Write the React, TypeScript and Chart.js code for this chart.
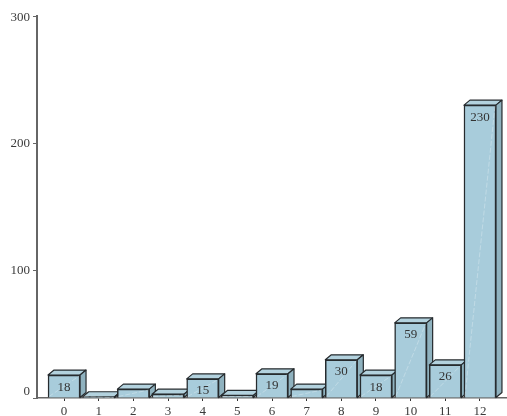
import React, { useEffect, useRef } from "react";
import { Chart, registerables } from "chart.js";

Chart.register(...registerables);

const categories = [0, 1, 2, 3, 4, 5, 6, 7, 8, 9, 10, 11, 12];
const counts = [18, 1, 7, 3, 15, 2, 19, 7, 30, 18, 59, 26, 230];
const yTicks = [0, 100, 200, 300];

const FONT = "'Liberation Serif', serif";
const FRONT = "#a8ccdb";
const TOP = "#b3d2de";
const SIDE = "#8fb2bf";
const EDGE = "#262b2e";
const AXIS = "#666666";
const DX = 6;
const DY = 5;
const MIN_LABELLED = 10;

// Extruded faces behind every bar, then highlights and value labels on top of it.
const boxFaces = {
  id: "boxFaces",
  beforeDatasetsDraw(chart: any) {
    const { ctx } = chart;
    const bars = chart.getDatasetMeta(0).data;
    ctx.save();
    ctx.strokeStyle = EDGE;
    ctx.lineWidth = 1.2;
    ctx.lineJoin = "round";
    bars.forEach((bar: any) => {
      const half = bar.width / 2;
      const l = bar.x - half;
      const r = bar.x + half;
      const t = bar.y;
      const b = bar.base;
      ctx.beginPath();
      ctx.moveTo(l, t);
      ctx.lineTo(l + DX, t - DY);
      ctx.lineTo(r + DX, t - DY);
      ctx.lineTo(r, t);
      ctx.closePath();
      ctx.fillStyle = TOP;
      ctx.fill();
      ctx.stroke();
      ctx.beginPath();
      ctx.moveTo(r, t);
      ctx.lineTo(r + DX, t - DY);
      ctx.lineTo(r + DX, b - DY);
      ctx.lineTo(r, b);
      ctx.closePath();
      ctx.fillStyle = SIDE;
      ctx.fill();
      ctx.stroke();
    });
    ctx.restore();
  },
  afterDatasetsDraw(chart: any) {
    const { ctx } = chart;
    const bars = chart.getDatasetMeta(0).data;
    ctx.save();
    bars.forEach((bar: any, i: number) => {
      const half = bar.width / 2;
      ctx.beginPath();
      ctx.moveTo(bar.x - half + 1, bar.base - 1);
      ctx.lineTo(bar.x + half - 1, bar.y + 1);
      ctx.strokeStyle = "rgba(255,255,255,0.35)";
      ctx.lineWidth = 0.8;
      ctx.setLineDash([5, 2]);
      ctx.stroke();
      ctx.setLineDash([]);
      if (counts[i] >= MIN_LABELLED) {
        ctx.fillStyle = "#333";
        ctx.font = `13px ${FONT}`;
        ctx.textAlign = "center";
        ctx.textBaseline = "middle";
        ctx.fillText(String(counts[i]), bar.x, bar.y + 12);
      }
    });
    // Value-axis labels: the end labels sit inside the axis span
    const y = chart.scales.y;
    ctx.fillStyle = "#3a3a3a";
    ctx.font = `13px ${FONT}`;
    ctx.textAlign = "right";
    ctx.textBaseline = "middle";
    yTicks.forEach((v) => {
      const nudge = v === 0 ? -6 : v === 300 ? 2 : 0;
      ctx.fillText(String(v), 30, y.getPixelForValue(v) + nudge);
    });
    ctx.restore();
  },
};

export default function App() {
  const ref = useRef<HTMLCanvasElement>(null);

  useEffect(() => {
    const chart = new Chart(ref.current as HTMLCanvasElement, {
      type: "bar",
      data: {
        datasets: [
          {
            data: categories.map((c, i) => ({ x: c, y: counts[i] })),
            backgroundColor: FRONT,
            borderColor: EDGE,
            borderWidth: 1.5,
            barThickness: 32,
          },
        ],
      },
      options: {
        responsive: false,
        animation: false,
        layout: { padding: { top: 16, left: 0, right: 0, bottom: 0 } },
        plugins: { legend: { display: false }, tooltip: { enabled: false } },
        scales: {
          x: {
            type: "linear",
            offset: false,
            min: -0.78,
            max: 12.78,
            afterBuildTicks: (s: any) => {
              s.ticks = categories.map((value) => ({ value }));
            },
            afterFit: (s: any) => {
              s.height = 18;
            },
            grid: {
              drawOnChartArea: false,
              offset: false,
              tickLength: 3,
              color: "#333",
            },
            border: { color: AXIS, width: 1.5 },
            ticks: {
              autoSkip: false,
              maxRotation: 0,
              padding: 3,
              color: "#3a3a3a",
              font: { family: FONT, size: 13 },
            },
          },
          y: {
            min: 0,
            max: 300,
            afterBuildTicks: (s: any) => {
              s.ticks = yTicks.map((value) => ({ value }));
            },
            afterFit: (s: any) => {
              s.width = 37;
            },
            grid: {
              drawOnChartArea: false,
              tickLength: 4,
              color: AXIS,
            },
            border: { color: AXIS, width: 2 },
            ticks: { display: false },
          },
        },
      },
      plugins: [boxFaces],
    } as any);
    return () => chart.destroy();
  }, []);

  return (
    <div style={{ position: "fixed", left: 0, top: 0, width: 507, height: 416, background: "#fff" }}>
      <canvas ref={ref} width={507} height={416} style={{ display: "block" }} />
    </div>
  );
}
